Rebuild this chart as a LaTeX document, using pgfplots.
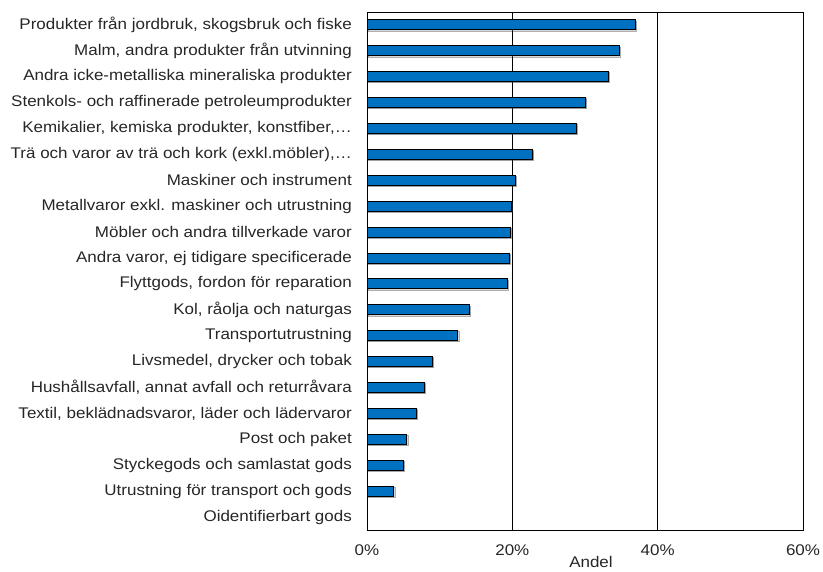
\documentclass[border=0pt]{standalone}
\usepackage{pgfplots}
\pgfplotsset{compat=1.18}
\usepackage{fontspec}
\setmainfont[FakeStretch=1.10]{Liberation Sans}
\usetikzlibrary{shadows}
\definecolor{barblue}{HTML}{0070C0}
\begin{document}
\begin{tikzpicture}
\useasboundingbox (0,0) rectangle (823bp,572bp);
\begin{axis}[
  at={(367bp,42bp)}, anchor=south west,
  scale only axis, width=436bp, height=518bp,
  xmin=0, xmax=60, ymin=-0.5, ymax=19.5, y dir=reverse,
  xtick={0,20,40,60}, xticklabels={0\%,20\%,40\%,60\%},
  ytick={0,...,19},
  yticklabels={
    {Produkter från jordbruk, skogsbruk och fiske},
    {Malm, andra produkter från utvinning},
    {Andra icke-metalliska mineraliska produkter},
    {Stenkols- och raffinerade petroleumprodukter},
    {Kemikalier, kemiska produkter, konstfiber,…},
    {Trä och varor av trä och kork (exkl.möbler),…},
    {Maskiner och instrument},
    {Metallvaror exkl. maskiner och utrustning},
    {Möbler och andra tillverkade varor},
    {Andra varor, ej tidigare specificerade},
    {Flyttgods, fordon för reparation},
    {Kol, råolja och naturgas},
    {Transportutrustning},
    {Livsmedel, drycker och tobak},
    {Hushållsavfall, annat avfall och returråvara},
    {Textil, beklädnadsvaror, läder och lädervaror},
    {Post och paket},
    {Styckegods och samlastat gods},
    {Utrustning för transport och gods},
    {Oidentifierbart gods}},
  major tick length=0pt,
  xmajorgrids, grid style={black, line width=0.8bp},
  axis line style={black, line width=0.8bp},
  tick label style={font=\fontsize{15.5}{18}\selectfont, text=black!85},
  yticklabel style={anchor=east, inner sep=0pt, xshift=-15bp},
  xticklabel style={anchor=north, inner sep=0pt, yshift=-15bp},
  xlabel={Andel},
  xlabel style={font=\fontsize{15.5}{18}\selectfont, text=black!85, at={(axis description cs:0.5,0)}, anchor=center, yshift=-32bp, xshift=6bp},
  xbar, bar width=10bp,
]
\addplot[fill=barblue, draw=black, line width=1bp,
  drop shadow={shadow xshift=1.2bp, shadow yshift=-1.2bp, opacity=0.3}]
  coordinates {
  (36.9,0) (34.7,1) (33.2,2) (30.1,3) (28.8,4) (22.8,5) (20.4,6)
  (19.9,7) (19.7,8) (19.6,9) (19.3,10) (14.1,11) (12.5,12) (9.0,13)
  (7.9,14) (6.8,15) (5.5,16) (5.0,17) (3.7,18)
  };
\end{axis}
\end{tikzpicture}
\end{document}
